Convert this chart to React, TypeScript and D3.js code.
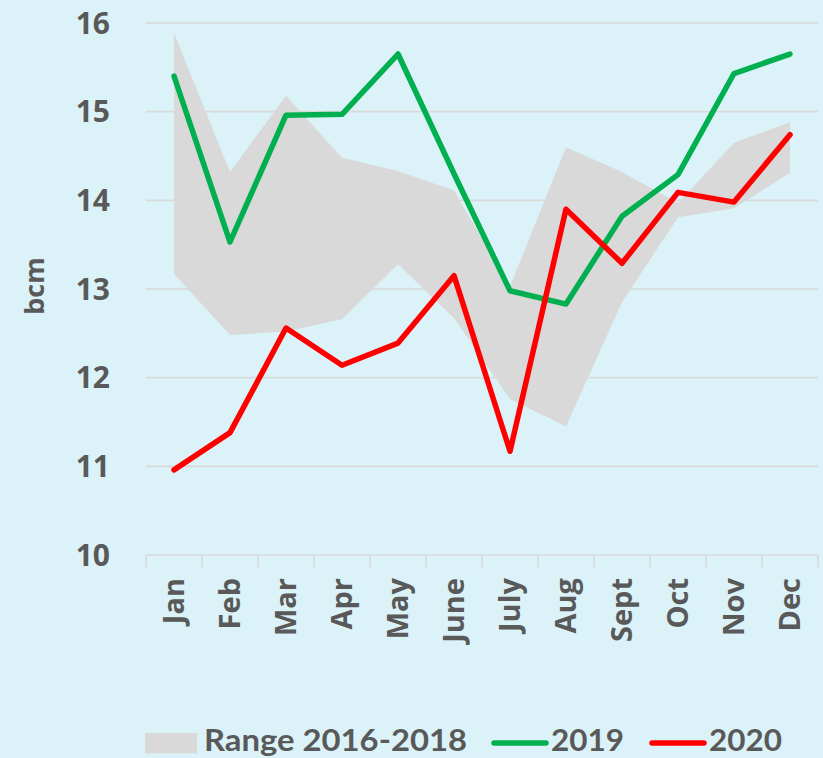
import React from "react";
import * as d3 from "d3";

const months = ["Jan", "Feb", "Mar", "Apr", "May", "June", "July", "Aug", "Sept", "Oct", "Nov", "Dec"];
const rangeMax = [15.89, 14.32, 15.18, 14.48, 14.33, 14.11, 13.03, 14.6, 14.32, 13.97, 14.65, 14.88];
const rangeMin = [13.17, 12.48, 12.52, 12.66, 13.28, 12.67, 11.76, 11.45, 12.85, 13.81, 13.91, 14.31];
const series2019 = [15.4, 13.53, 14.96, 14.97, 15.65, 14.3, 12.98, 12.83, 13.82, 14.29, 15.43, 15.65];
const series2020 = [10.96, 11.38, 12.56, 12.14, 12.39, 13.15, 11.17, 13.9, 13.29, 14.09, 13.98, 14.74];
const yTicks = [10, 11, 12, 13, 14, 15, 16];

const W = 823;
const H = 758;
const BG = "#DBF3F8";
const TEXT = "#595959";
const GRID = "#D9D9D9";
const GREEN = "#00B050";
const RED = "#FF0000";
const BAND = "#D9D9D9";

export default function App() {
  const x = d3.scaleBand<string>().domain(months).range([146, 818]).padding(0);
  const y = d3.scaleLinear().domain([10, 16]).range([555, 23]);
  const cx = (i: number) => (x(months[i]) as number) + x.bandwidth() / 2;

  const area = d3
    .area<number>()
    .x((_, i) => cx(i))
    .y0((_, i) => y(rangeMin[i]))
    .y1((_, i) => y(rangeMax[i]));
  const line = d3
    .line<number>()
    .x((_, i) => cx(i))
    .y((d) => y(d));

  const font = "'Open Sans', sans-serif";
  const legendFont = "Lato, sans-serif";

  return (
    <div style={{ position: "fixed", left: 0, top: 0, width: W, height: H }}>
      <svg width={W} height={H} style={{ display: "block" }}>
        <rect x={0} y={0} width={W} height={H} fill={BG} />
        {/* gridlines */}
        {yTicks.map((t) => (
          <line key={t} x1={146} x2={818} y1={y(t)} y2={y(t)} stroke={GRID} strokeWidth={1.6} />
        ))}
        {/* category ticks */}
        {[...months.map((m) => x(m) as number), 818].map((v, i) => (
          <line key={i} x1={v} x2={v} y1={555} y2={567} stroke={GRID} strokeWidth={1.6} />
        ))}
        {/* band */}
        <path d={area(rangeMax) || ""} fill={BAND} />
        {/* lines */}
        <path d={line(series2019) || ""} fill="none" stroke={GREEN} strokeWidth={5.5} strokeLinejoin="round" strokeLinecap="round" />
        <path d={line(series2020) || ""} fill="none" stroke={RED} strokeWidth={5.5} strokeLinejoin="round" strokeLinecap="round" />
        {/* y tick labels */}
        {yTicks.map((t) => (
          <text
            key={t}
            x={110}
            y={y(t)}
            dy="0.36em"
            textAnchor="end"
            fontFamily={font}
            fontWeight={700}
            fontSize={30}
            fill={TEXT}
          >
            {t}
          </text>
        ))}
        {/* x labels */}
        {months.map((m, i) => (
          <text
            key={m}
            transform={`translate(${cx(i)},578) rotate(-90)`}
            dy="0.36em"
            textAnchor="end"
            fontFamily={font}
            fontWeight={700}
            fontSize={29}
            fill={TEXT}
          >
            {m}
          </text>
        ))}
        {/* y title */}
        <text
          transform="translate(34,286) rotate(-90)"
          dy="0.36em"
          textAnchor="middle"
          fontFamily={font}
          fontWeight={700}
          fontSize={27}
          fill={TEXT}
        >
          bcm
        </text>
        {/* legend */}
        <rect x={145} y={733} width={52} height={20.5} fill={BAND} />
        <text x={204} y={751} fontFamily={legendFont} fontWeight={700} fontSize={31} fill={TEXT} textLength={263} lengthAdjust="spacingAndGlyphs">
          Range 2016-2018
        </text>
        <line x1={494} x2={546} y1={743} y2={743} stroke={GREEN} strokeWidth={5.5} strokeLinecap="round" />
        <text x={551} y={751} fontFamily={legendFont} fontWeight={700} fontSize={31} fill={TEXT} textLength={73} lengthAdjust="spacingAndGlyphs">
          2019
        </text>
        <line x1={652} x2={704} y1={743} y2={743} stroke={RED} strokeWidth={5.5} strokeLinecap="round" />
        <text x={709} y={751} fontFamily={legendFont} fontWeight={700} fontSize={31} fill={TEXT} textLength={73} lengthAdjust="spacingAndGlyphs">
          2020
        </text>
      </svg>
    </div>
  );
}
